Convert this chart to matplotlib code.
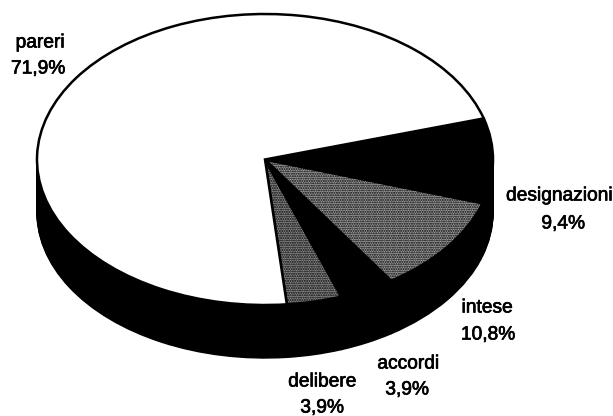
import numpy as np
import matplotlib
matplotlib.use('Agg')
import matplotlib.pyplot as plt
import matplotlib.patheffects as pe

# slices, counterclockwise from the start angle
categories = ['delibere', 'accordi', 'intese', 'designazioni', 'pareri']
values = [3.9, 3.9, 10.8, 9.4, 71.9]
percent_labels = ['3,9%', '3,9%', '10,8%', '9,4%', '71,9%']
face_colors = ['#8c8c8c', 'black', '#a0a0a0', 'black', 'white']
hatches = ['.......', None, '.......', None, None]

W, H = 613, 416
cx, cy = 265, 159.5   # pie centre in pixels
rx, ry = 228, 145.5   # radii of the ellipse
depth = 53            # height of the side wall
start = -84.5

# label centres in pixels
label_pos = [(322, 382), (408, 364), (487, 308), (559, 196), (40, 43)]
value_pos = [(322, 408), (407, 390), (488, 335), (563, 224), (38, 69)]

plt.rcParams['font.family'] = ['Liberation Sans', 'DejaVu Sans']
plt.rcParams['hatch.linewidth'] = 1.0

fig = plt.figure(figsize=(W / 100, H / 100), dpi=100)
ax = fig.add_axes([0, 0, 1, 1])

# side wall: black copies stacked downward
for d in np.arange(depth, 0, -1.0):
    ax.pie(values, startangle=start, center=(0, -d / ry), radius=1,
           colors=['black'] * len(values),
           wedgeprops=dict(linewidth=1, edgecolor='black'))

# top face
wedges, _ = ax.pie(values, startangle=start, center=(0, 0), radius=1,
                   colors=face_colors,
                   wedgeprops=dict(linewidth=1.8, edgecolor='black'))
for w, h in zip(wedges, hatches):
    if h:
        w.set_hatch(h)

ax.set_aspect('auto')
ax.set_xlim(-cx / rx, (W - cx) / rx)
ax.set_ylim((cy - H) / ry, cy / ry)
ax.axis('off')

heavy = [pe.withStroke(linewidth=0.5, foreground='black')]
for name, pct, lp, vp in zip(categories, percent_labels, label_pos, value_pos):
    fig.text(lp[0] / W, 1 - lp[1] / H, name, fontsize=13.8, ha='center', va='center',
             color='black', path_effects=heavy)
    fig.text(vp[0] / W, 1 - vp[1] / H, pct, fontsize=13.8, ha='center', va='center',
             color='black', path_effects=heavy)

fig.savefig('out.png', dpi=100)
